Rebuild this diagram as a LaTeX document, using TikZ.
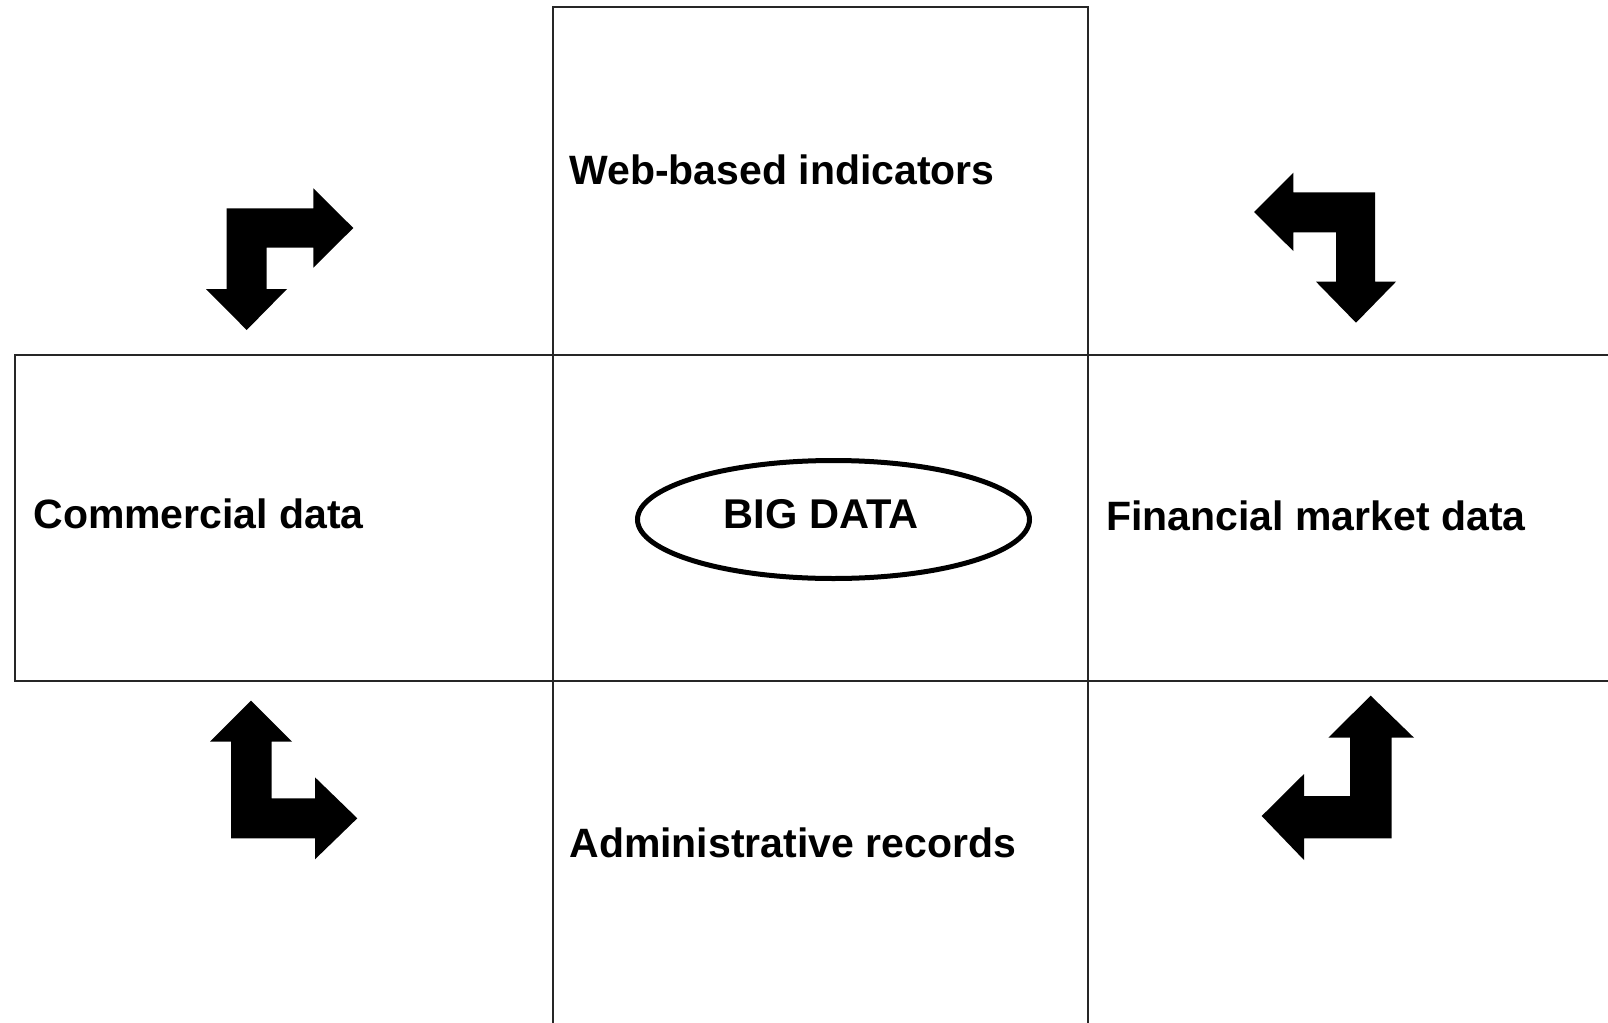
\documentclass[tikz,border=0pt]{standalone}
\usepackage{fontspec}
\setmainfont{Liberation Sans}
\usetikzlibrary{shapes.geometric}
\begin{document}
\begin{tikzpicture}[x=0.5pt,y=-0.5pt,
  cell/.style={draw=black!85,line width=0.75pt},
  label/.style={anchor=base west,inner sep=0pt,font=\fontsize{20.5pt}{24pt}\selectfont\bfseries},
  bentarrow/.style={fill=black,draw=none}]
\useasboundingbox (0,0) rectangle (1608,1023);
\clip (0,0) rectangle (1608,1023);

% grid of cells around the centre
\draw[cell] (553,7) rectangle (1088,355);
\draw[cell] (15,355) rectangle (553,681);
\draw[cell] (553,355) rectangle (1088,681);
\draw[cell] (1088,355) rectangle (1640,681);
\draw[cell] (553,681) rectangle (1088,1060);

% centre ellipse
\node[ellipse,draw,line width=2.5pt,inner sep=0pt,
      minimum width=196pt,minimum height=59pt] (big) at (833.5,519.5) {};
\node[label,anchor=base,font=\fontsize{20.8pt}{24pt}\selectfont\bfseries] (bigtext) at (821,528) {BIG DATA};

% source labels
\node[label] (web) at (569,184) {Web-based indicators};
\node[label] (com) at (33,528) {Commercial data};
\node[label] (fin) at (1106,530) {Financial market data};
\node[label] (adm) at (569,857) {Administrative records};

% bent double arrows in the corners
\fill[bentarrow] (226.7,208.3) -- (313.3,208.3) -- (313.3,188.3) -- (353.3,228) -- (313.3,267.7)
  -- (313.3,247.7) -- (266.7,247.7) -- (266.7,289) -- (287,289) -- (246.7,330)
  -- (206,289) -- (226.7,289) -- cycle;
\fill[bentarrow] (1375,192.3) -- (1293.3,192.3) -- (1293.3,172.7) -- (1254,212) -- (1293.3,251)
  -- (1293.3,232.3) -- (1336,232.3) -- (1336,281.7) -- (1316,281.7) -- (1356,322.7)
  -- (1396,281.7) -- (1375,281.7) -- cycle;
\fill[bentarrow] (231,838.3) -- (231,741.7) -- (210,741.7) -- (251,700.7) -- (292,741.7)
  -- (271.7,741.7) -- (271.7,798.3) -- (315,798.3) -- (315,777.3) -- (357.3,818.3)
  -- (315,859.3) -- (315,838.3) -- cycle;
\fill[bentarrow] (1391.7,838.3) -- (1391.7,737.7) -- (1414,737.7) -- (1370.7,695.7) -- (1328.3,737.7)
  -- (1350,737.7) -- (1350,796) -- (1304,796) -- (1304,774) -- (1261.7,816)
  -- (1304,860) -- (1304,838.3) -- cycle;
\end{tikzpicture}
\end{document}
